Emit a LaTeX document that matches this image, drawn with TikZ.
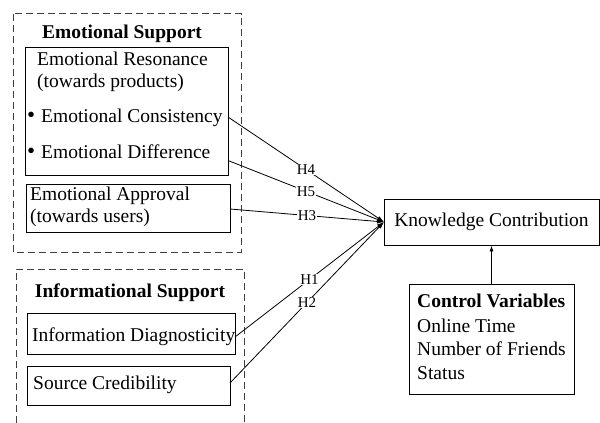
\documentclass[tikz,border=0pt]{standalone}
\usepackage{fontspec}
\setmainfont{Liberation Serif}
\usetikzlibrary{arrows.meta}
\newcommand{\mybul}{\makebox[14pt][l]{\fontsize{23}{22}\selectfont\textbullet}}
\begin{document}
\begin{tikzpicture}[x=1pt,y=-1pt,
  txt/.style={inner sep=0pt, anchor=base west, font=\fontsize{19.5}{22}\selectfont},
  ttl/.style={inner sep=0pt, anchor=base, font=\fontsize{19.5}{22}\selectfont\bfseries},
  box/.style={draw=black, line width=0.9pt, inner sep=0pt},
  grp/.style={draw=black!75, line width=0.9pt, dash pattern=on 7pt off 4pt},
  conn/.style={draw=black, line width=0.8pt, -{Latex[length=7pt,width=4.5pt]}},
  lab/.style={fill=white, inner sep=0.8pt, font=\fontsize{15}{17}\selectfont}]
\useasboundingbox (0,0) rectangle (600,423);
% group boxes
\draw[grp] (13.5,13.5) rectangle (241,252);
\draw[grp] (16,423) -- (16,269) -- (244,269) -- (244,423);
\node[ttl] (es) at (122,38) {Emotional Support};
\node[ttl] (is) at (130,297) {Informational Support};
% emotional resonance
\node[box, minimum width=203, minimum height=128] (er) at (126.5,111) {};
\node[txt] (ert1) at (37,65.5) {Emotional Resonance};
\node[txt] (ert2) at (37,87) {(towards products)};
\node[txt] (ec) at (27,122) {\mybul Emotional Consistency};
\node[txt] (ed) at (27,158) {\mybul Emotional Difference};
% emotional approval
\node[box, minimum width=204, minimum height=48] (ea) at (128,208) {};
\node[txt] (eat1) at (30,200) {Emotional Approval};
\node[txt] (eat2) at (30,222) {(towards users)};
% informational
\node[box, minimum width=208, minimum height=41] (id) at (131,333.5) {};
\node[txt] (idt) at (32,341) {Information Diagnosticity};
\node[box, minimum width=203, minimum height=39] (sc) at (128.5,385.5) {};
\node[txt] (sct) at (33,389) {Source Credibility};
% knowledge contribution
\node[box, minimum width=215, minimum height=46, font=\fontsize{19.5}{22}\selectfont] (kc) at (491.5,222) {Knowledge Contribution};
% control variables
\node[box, minimum width=165, minimum height=110] (cv) at (491.5,339) {};
\node[txt, font=\fontsize{19.5}{22}\selectfont\bfseries] (cvt) at (417,307) {Control Variables};
\node[txt] (cv1) at (417,332) {Online Time};
\node[txt] (cv2) at (417,355) {Number of Friends};
\node[txt] (cv3) at (417,379) {Status};
% connector start points
\coordinate (s4) at (228,117);
\coordinate (s5) at (228,160.5);
\coordinate (s3) at (230,209);
\coordinate (s1) at (235,337);
\coordinate (s2) at (230,383);
\coordinate (t) at (384,222);
\draw[conn] (s4) -- node[lab] {H4} (t);
\draw[conn] (s5) -- node[lab] {H5} (t);
\draw[conn] (s3) -- node[lab] {H3} (t);
\draw[conn] (s1) -- node[lab] {H1} (t);
\draw[conn] (s2) -- node[lab] {H2} (t);
\draw[conn, -{Latex[length=6pt,width=4pt]}] (cv.north) -- (kc.south);
\end{tikzpicture}
\end{document}
